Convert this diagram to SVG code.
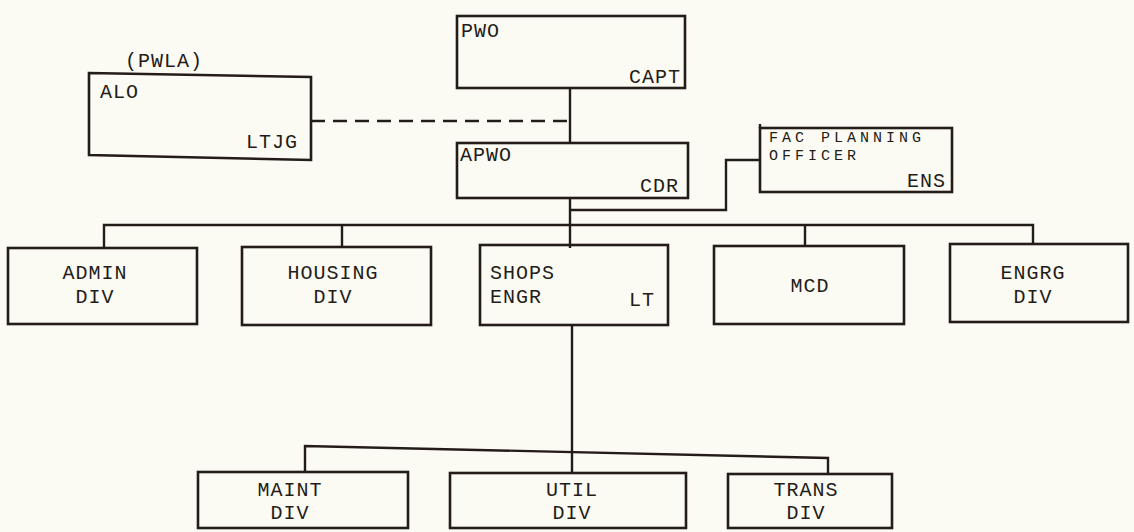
<svg xmlns="http://www.w3.org/2000/svg" width="1134" height="532" viewBox="0 0 1134 532">
<style>
.b{fill:none;stroke:#231c18;stroke-width:2.6;stroke-linejoin:miter}
.c{fill:none;stroke:#231c18;stroke-width:2.4}
.d{fill:none;stroke:#231c18;stroke-width:2.6;stroke-dasharray:14 8}
text{font-family:"Liberation Mono","DejaVu Sans Mono",monospace;font-size:20px;fill:#231c18;letter-spacing:1px}
.s{font-size:15px;letter-spacing:4px}
.m{text-anchor:middle}
.e{text-anchor:end}
</style>
<rect width="1134" height="532" fill="#fbfaf3"/>
<g id="connectors">
<line class="c" x1="570" y1="88" x2="570" y2="143"/>
<line class="d" x1="311" y1="121" x2="570" y2="121"/>
<polyline class="c" points="570,198 570,225"/>
<polyline class="c" points="570,210 726,210 726,160 760,160"/>
<polyline class="c" points="104,248 104,225 1033,225 1033,244"/>
<line class="c" x1="342" y1="225" x2="342" y2="248"/>
<line class="c" x1="570" y1="225" x2="570" y2="248"/>
<line class="c" x1="805" y1="225" x2="805" y2="246"/>
<line class="c" x1="572" y1="325" x2="572" y2="452"/>
<polyline class="c" points="305,472 305,446 828,458 828,474"/>
<line class="c" x1="572" y1="452" x2="572" y2="473"/>
</g>
<g id="alo">
<path class="b" d="M89,73 L311,77 L311,160 L89,155 Z"/>
<text x="125" y="67">(PWLA)</text>
<text x="100" y="98">ALO</text>
<text class="e" x="298" y="148">LTJG</text>
</g>
<g id="pwo">
<rect class="b" x="457" y="16" width="228" height="72"/>
<text x="461" y="37">PWO</text>
<text class="e" x="681" y="83">CAPT</text>
</g>
<g id="apwo">
<rect class="b" x="457" y="143" width="231" height="55"/>
<text x="460" y="161">APWO</text>
<text class="e" x="679" y="192">CDR</text>
</g>
<g id="fac">
<rect class="b" x="760" y="128" width="192" height="64"/>
<line class="c" x1="760" y1="128" x2="760" y2="124"/>
<text class="s" x="769" y="142">FAC PLANNING</text>
<text class="s" x="769" y="160">OFFICER</text>
<text class="e" x="946" y="187">ENS</text>
</g>
<g id="admin">
<rect class="b" x="8" y="248" width="189" height="76"/>
<text class="m" x="95" y="279">ADMIN</text>
<text class="m" x="95" y="303">DIV</text>
</g>
<g id="housing">
<rect class="b" x="242" y="247" width="189" height="78"/>
<text class="m" x="333" y="279">HOUSING</text>
<text class="m" x="333" y="303">DIV</text>
</g>
<g id="shops">
<rect class="b" x="480" y="245" width="188" height="80"/>
<text x="490" y="279">SHOPS</text>
<text x="490" y="303">ENGR</text>
<text class="e" x="655" y="306">LT</text>
</g>
<g id="mcd">
<rect class="b" x="714" y="246" width="190" height="78"/>
<text class="m" x="810" y="292">MCD</text>
</g>
<g id="engrg">
<rect class="b" x="950" y="244" width="178" height="78"/>
<text class="m" x="1033" y="279">ENGRG</text>
<text class="m" x="1033" y="303">DIV</text>
</g>
<g id="maint">
<rect class="b" x="198" y="472" width="210" height="56"/>
<text class="m" x="290" y="496">MAINT</text>
<text class="m" x="290" y="519">DIV</text>
</g>
<g id="util">
<rect class="b" x="450" y="473" width="236" height="55"/>
<text class="m" x="572" y="496">UTIL</text>
<text class="m" x="572" y="519">DIV</text>
</g>
<g id="trans">
<rect class="b" x="728" y="474" width="164" height="54"/>
<text class="m" x="806" y="496">TRANS</text>
<text class="m" x="806" y="519">DIV</text>
</g>
</svg>
